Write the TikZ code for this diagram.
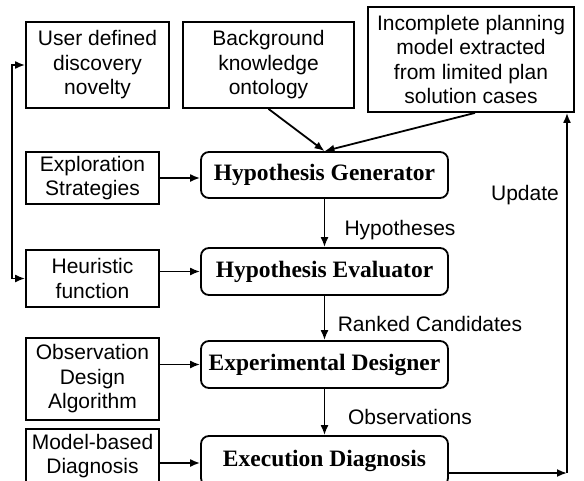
\documentclass[tikz,border=0pt]{standalone}
\usepackage{fontspec}
\setmainfont{Liberation Sans}
\newfontfamily\serifbold{Liberation Serif}
\usetikzlibrary{arrows.meta}
\tikzset{
  box/.style={draw, line width=1.8pt, inner sep=0pt, align=center, font=\fontsize{21}{24.5}\selectfont},
  core/.style={draw, line width=1.8pt, rounded corners=8pt, inner sep=0pt, minimum width=247pt, minimum height=47pt, font=\serifbold\bfseries\fontsize{23.5}{26}\selectfont},
  lbl/.style={inner sep=0pt, font=\fontsize{21}{24.5}\selectfont},
  headtip/.tip={Latex[length=10pt,width=8pt]},
  flow/.style={line width=1.8pt, -headtip}
}
\begin{document}
\begin{tikzpicture}[x=1pt,y=-1pt]
\useasboundingbox (0,0) rectangle (584,480);
% knowledge sources
\node[box, minimum width=143pt, minimum height=86pt] (user) at (97.5,65) {User defined\\discovery\\novelty};
\node[box, minimum width=171pt, minimum height=86pt] (bg) at (268.5,65) {Background\\knowledge\\ontology};
\node[box, minimum width=206pt, minimum height=105pt] (inc) at (471,59.5) {Incomplete planning\\model extracted\\from limited plan\\solution cases};
% method boxes on the left
\node[box, minimum width=133pt, minimum height=52pt] (expl) at (92.5,178) {Exploration\\Strategies};
\node[box, minimum width=133pt, minimum height=57pt] (heur) at (92.5,278.5) {Heuristic\\function};
\node[box, minimum width=133pt, minimum height=82pt] (obs) at (92.5,379) {Observation\\Design\\Algorithm};
\node[box, minimum width=133pt, minimum height=54pt] (model) at (92.5,456) {Model-based\\Diagnosis};
% main chain
\node[core, minimum height=46pt] (gen) at (324.5,175) {Hypothesis Generator};
\node[core] (eval) at (324.5,271.5) {Hypothesis Evaluator};
\node[core] (des) at (324.5,364.5) {Experimental Designer};
\node[core, minimum height=50pt] (exec) at (324.5,461) {Execution Diagnosis};
% connectors
\draw[flow] (bg.south) -- (gen.north);
\draw[flow] ([xshift=4pt]inc.south) -- (gen.north);
\draw[flow] (expl.east) -- (expl.east -| gen.west);
\draw[flow] (heur.east |- eval.west) -- (eval.west);
\draw[flow] (obs.east |- des.west) -- (des.west);
\draw[flow] ([yshift=-7pt]model.east) -- ([yshift=-7pt]model.east -| exec.west);
\draw[flow] (gen.south) -- (eval.north);
\draw[flow] (eval.south) -- (des.north);
\draw[flow] (des.south) -- (exec.north);
\coordinate (turn) at (567,473);
\draw[flow] (exec.east |- turn) -- (turn);
\draw[flow] (turn) -- (turn |- inc.south);
\draw[line width=1.8pt, headtip-headtip] (user.west) -- ++(-13.5pt,0) |- (heur.west);
% labels
\node[lbl] (hyp) at (400,230) {Hypotheses};
\node[lbl] (rank) at (430,324) {Ranked Candidates};
\node[lbl] (obsv) at (410,417) {Observations};
\node[lbl] (upd) at (525,195) {Update};
\end{tikzpicture}
\end{document}
